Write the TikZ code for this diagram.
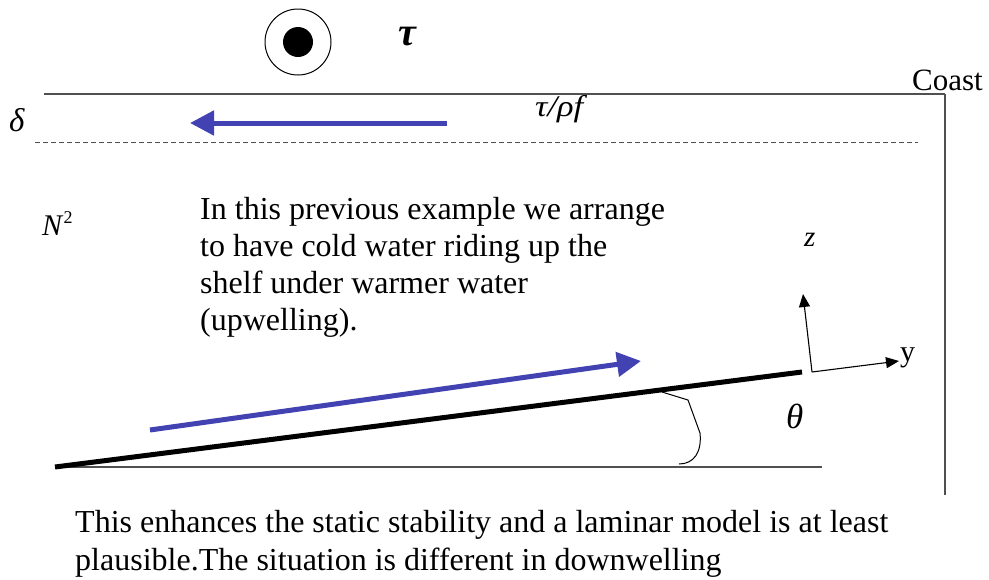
\documentclass[tikz,border=0pt]{standalone}
\usepackage{fontspec}
\setmainfont{Liberation Serif}
\usetikzlibrary{arrows.meta}
\definecolor{flowblue}{RGB}{66,66,178}
\definecolor{linegray}{RGB}{80,80,80}
\tikzset{
  lbl/.style={inner sep=0pt, anchor=base west},
  flow/.style={draw=flowblue, line width=5pt, -{Triangle[length=24pt,width=24pt]}},
  axis/.style={draw=black, line width=1.1pt, -{Triangle[length=13pt,width=11pt]}},
  thin gray/.style={draw=linegray, line width=1.3pt},
}
\begin{document}
\begin{tikzpicture}[x=1pt,y=-1pt]
\useasboundingbox (0,0) rectangle (989,579);
% symbol of tau out of page
\node[draw, circle, minimum size=66pt, line width=1pt, inner sep=0pt] (out) at (298,42) {};
\node[fill=black, circle, minimum size=30pt, inner sep=0pt] (dot) at (out.center) {};
\node[lbl, font=\fontsize{40}{44}\selectfont] (tau) at (398,45) {\textbf{\textit{τ}}};
% surface and coast
\coordinate (sl) at (44,94);
\coordinate (sr) at (945,94);
\coordinate (cb) at (945,495);
\draw[thin gray] (sl) -- (sr);
\draw[thin gray] (sr) -- (cb);
\node[lbl, font=\fontsize{31}{36}\selectfont] (coast) at (912,90) {Coast};
% Ekman layer
\node[lbl, font=\fontsize{33}{36}\selectfont] (delta) at (9,131) {\textit{δ}};
\coordinate (ekr) at (447,123);
\coordinate (ekl) at (190,123);
\draw[flow] (ekr) -- (ekl);
\node[lbl, font=\fontsize{30}{32}\selectfont, xscale=1.15] (ek) at (535,116) {\textit{τ/ρf}};
\coordinate (dl) at (35,142);
\coordinate (dr) at (918,142);
\draw[draw=linegray, line width=1pt, dash pattern=on 5pt off 3pt] (dl) -- (dr);
% N^2
\node[lbl, font=\fontsize{30}{32}\selectfont] (n2) at (42,235) {\textit{N}\raisebox{12pt}{\fontsize{18}{20}\selectfont 2}};
% main text
\node[inner sep=0pt, anchor=north west, align=left, font=\fontsize{32}{37}\selectfont] (txt) at (200,197)
  {In this previous example we arrange\\to have cold water riding up the\\shelf under warmer water\\(upwelling).};
% axes
\node[lbl, font=\fontsize{29}{32}\selectfont] (zl) at (804,246) {\textit{z}};
\coordinate (o) at (812,372);
\coordinate (zt) at (803,294);
\coordinate (yt) at (899,361);
\draw[axis] (o) -- (zt);
\draw[axis] (o) -- (yt);
\node[lbl, font=\fontsize{30}{32}\selectfont] (yl) at (900,361) {y};
% shelf
\coordinate (s0) at (55,467);
\coordinate (s1) at (802,372);
\coordinate (b1) at (822,467);
\draw[thin gray] (s0) -- (b1);
\draw[line width=5pt] (s0) -- (s1);
\coordinate (flow0) at (150,430);
\coordinate (flow1) at (641,361);
\draw[flow] (flow0) -- (flow1);
% angle
\coordinate (a0) at (662,392);
\coordinate (a1) at (688,400);
\coordinate (a2) at (700,433);
\coordinate (a3) at (679,464);
\draw[line width=1pt] (a0) -- (a1) -- (a2) .. controls (702,452) and (694,464) .. (a3);
\node[lbl, font=\fontsize{35}{38}\selectfont] (theta) at (786,428) {\textit{θ}};
% bottom text
\node[inner sep=0pt, anchor=north west, align=left, font=\fontsize{32}{38}\selectfont] (bot) at (75,510)
  {This enhances the static stability and a laminar model is at least\\plausible.The situation is different in downwelling};
\end{tikzpicture}
\end{document}
